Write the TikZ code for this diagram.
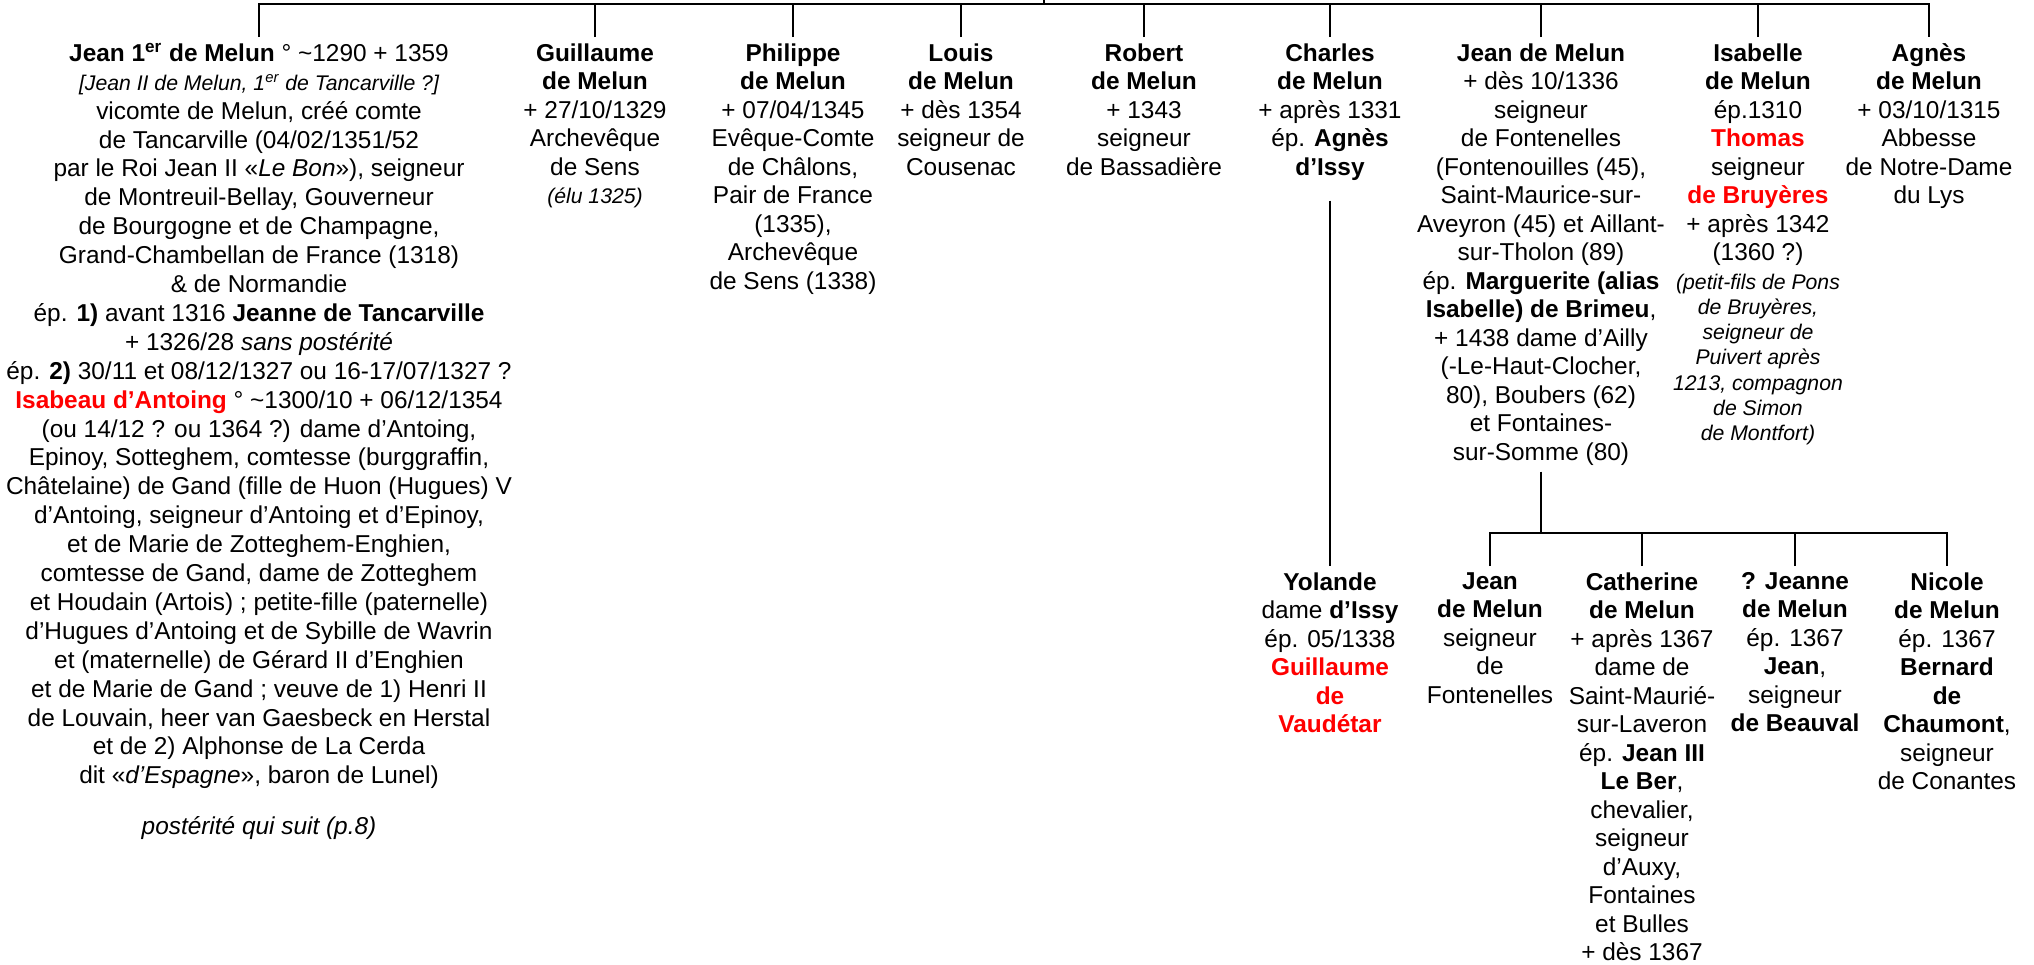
\documentclass[tikz,border=0pt]{standalone}
\usepackage{fontspec}
\setmainfont{Liberation Sans}
\usepackage{tikz}
\usetikzlibrary{calc}

\newcommand{\petit}{\fontsize{10.6}{12.7}\selectfont\itshape}
\newcommand{\rouge}[1]{{\color{red}\textbf{#1}}}

\tikzset{
  personne/.style={anchor=north, align=center, inner sep=3pt, font=\fontsize{12.2}{14.25}\selectfont},
  lien/.style={line width=1.4pt},
}

\begin{document}
\begin{tikzpicture}[x=0.5pt,y=-0.5pt]
\useasboundingbox (0,0) rectangle (2034,964);
\coordinate (Top) at (1044,0);
\coordinate (Bar) at (1044,4);% bar of the first generation
\coordinate (BarKids) at (1541,533);% bar of the children of Jean

% first generation
\node[personne, font=\fontsize{12.2}{14.45}\selectfont] (JeanI) at (259,37) {\textbf{Jean 1\textsuperscript{er} de Melun} ° \textasciitilde1290 + 1359\\
{\petit [Jean II de Melun, 1\textsuperscript{er} de Tancarville ?]}\\
vicomte de Melun, créé comte\\
de Tancarville (04/02/1351/52\\
par le Roi Jean II «\textit{Le Bon}»), seigneur\\
de Montreuil-Bellay, Gouverneur\\
de Bourgogne et de Champagne,\\
Grand-Chambellan de France (1318)\\
\& de Normandie\\
ép. \textbf{1)} avant 1316 \textbf{Jeanne de Tancarville}\\
+ 1326/28 \textit{sans postérité}\\
ép. \textbf{2)} 30/11 et 08/12/1327 ou 16-17/07/1327 ?\\
\rouge{Isabeau d’Antoing} ° \textasciitilde1300/10 + 06/12/1354\\
(ou 14/12 ? ou 1364 ?) dame d’Antoing,\\
Epinoy, Sotteghem, comtesse (burggraffin,\\
Châtelaine) de Gand (fille de Huon (Hugues) V\\
d’Antoing, seigneur d’Antoing et d’Epinoy,\\
et de Marie de Zotteghem-Enghien,\\
comtesse de Gand, dame de Zotteghem\\
et Houdain (Artois) ; petite-fille (paternelle)\\
d’Hugues d’Antoing et de Sybille de Wavrin\\
et (maternelle) de Gérard II d’Enghien\\
et de Marie de Gand ; veuve de 1) Henri II\\
de Louvain, heer van Gaesbeck en Herstal\\
et de 2) Alphonse de La Cerda\\
dit «\textit{d’Espagne}», baron de Lunel)\\[11pt]
\textit{postérité qui suit (p.8)}};

\node[personne] (Guillaume) at (595,37) {\textbf{Guillaume}\\\textbf{de Melun}\\+ 27/10/1329\\Archevêque\\de Sens\\{\petit (élu 1325)}};
\node[personne] (Philippe) at (793,37) {\textbf{Philippe}\\\textbf{de Melun}\\+ 07/04/1345\\Evêque-Comte\\de Châlons,\\Pair de France\\(1335),\\Archevêque\\de Sens (1338)};
\node[personne] (Louis) at (961,37) {\textbf{Louis}\\\textbf{de Melun}\\+ dès 1354\\seigneur de\\Cousenac};
\node[personne] (Robert) at (1144,37) {\textbf{Robert}\\\textbf{de Melun}\\+ 1343\\seigneur\\de Bassadière};
\node[personne] (Charles) at (1330,37) {\textbf{Charles}\\\textbf{de Melun}\\+ après 1331\\ép. \textbf{Agnès}\\\textbf{d’Issy}};
\node[personne] (JeanM) at (1541,37) {\textbf{Jean de Melun}\\+ dès 10/1336\\seigneur\\de Fontenelles\\(Fontenouilles (45),\\Saint-Maurice-sur-\\Aveyron (45) et Aillant-\\sur-Tholon (89)\\ép. \textbf{Marguerite (alias}\\\textbf{Isabelle) de Brimeu},\\+ 1438 dame d’Ailly\\(-Le-Haut-Clocher,\\80), Boubers (62)\\et Fontaines-\\sur-Somme (80)};
\node[personne] (Isabelle) at (1758,37) {\textbf{Isabelle}\\\textbf{de Melun}\\ép.1310\\\rouge{Thomas}\\seigneur\\\rouge{de Bruyères}\\+ après 1342\\(1360 ?)\\
{\petit (petit-fils de Pons}\\[-1.6pt]{\petit de Bruyères,}\\[-1.6pt]{\petit seigneur de}\\[-1.6pt]{\petit Puivert après}\\[-1.6pt]{\petit 1213, compagnon}\\[-1.6pt]{\petit de Simon}\\[-1.6pt]{\petit de Montfort)}};
\node[personne] (Agnes) at (1929,37) {\textbf{Agnès}\\\textbf{de Melun}\\+ 03/10/1315\\Abbesse\\de Notre-Dame\\du Lys};

% second generation
\node[personne] (Yolande) at (1330,566) {\textbf{Yolande}\\dame \textbf{d’Issy}\\ép. 05/1338\\\rouge{Guillaume}\\\rouge{de}\\\rouge{Vaudétar}};
\node[personne] (JeanK) at (1490,566) {\textbf{Jean}\\\textbf{de Melun}\\seigneur\\de\\Fontenelles};
\node[personne] (Catherine) at (1642,566) {\textbf{Catherine}\\\textbf{de Melun}\\+ après 1367\\dame de\\Saint-Maurié-\\sur-Laveron\\ép. \textbf{Jean III}\\\textbf{Le Ber},\\chevalier,\\seigneur\\d’Auxy,\\Fontaines\\et Bulles\\+ dès 1367};
\node[personne] (Jeanne) at (1795,566) {\textbf{? Jeanne}\\\textbf{de Melun}\\ép. 1367\\\textbf{Jean},\\seigneur\\\textbf{de Beauval}};
\node[personne] (Nicole) at (1947,566) {\textbf{Nicole}\\\textbf{de Melun}\\ép. 1367\\\textbf{Bernard}\\\textbf{de}\\\textbf{Chaumont},\\seigneur\\de Conantes};

% links
\draw[lien] (Top) -- (Bar);
\draw[lien] (JeanI.north) |- (Bar) -| (Agnes.north);
\draw[lien] (Guillaume.north) -- (Guillaume.north |- Bar);
\draw[lien] (Philippe.north) -- (Philippe.north |- Bar);
\draw[lien] (Louis.north) -- (Louis.north |- Bar);
\draw[lien] (Robert.north) -- (Robert.north |- Bar);
\draw[lien] (Charles.north) -- (Charles.north |- Bar);
\draw[lien] (JeanM.north) -- (JeanM.north |- Bar);
\draw[lien] (Isabelle.north) -- (Isabelle.north |- Bar);

\draw[lien] ([yshift=-7pt]Charles.south) -- (Yolande.north);
\draw[lien] (JeanM.south) -- (BarKids);
\draw[lien] (JeanK.north) |- (BarKids) -| (Nicole.north);
\draw[lien] (Catherine.north) -- (Catherine.north |- BarKids);
\draw[lien] (Jeanne.north) -- (Jeanne.north |- BarKids);
\end{tikzpicture}
\end{document}
